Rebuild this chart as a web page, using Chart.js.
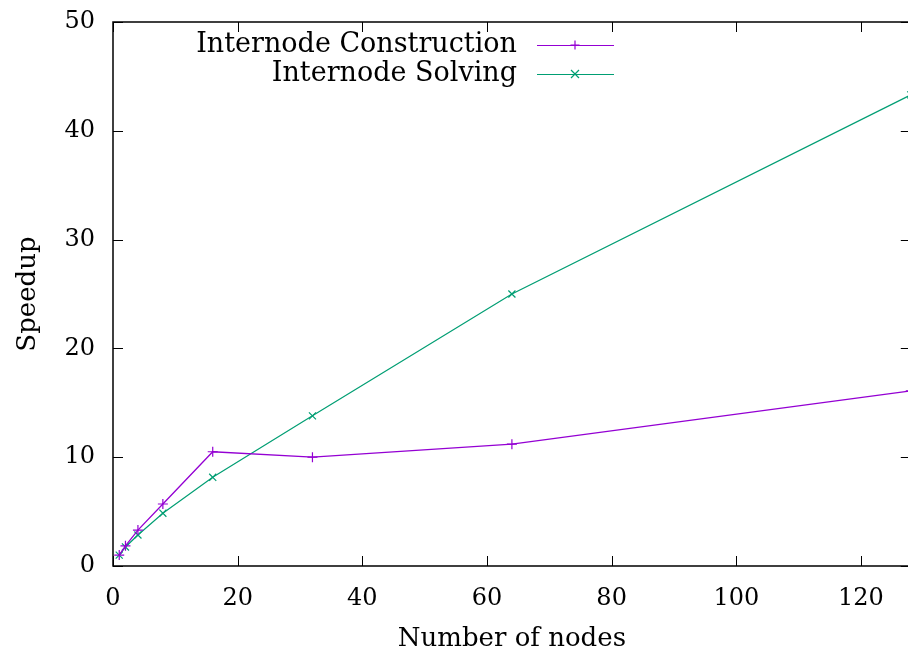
<!DOCTYPE html>
<html>
<head>
<meta charset="utf-8">
<script src="https://cdn.jsdelivr.net/npm/chart.js@4/dist/chart.umd.min.js"></script>
<style>
  html, body { margin: 0; padding: 0; background: #fff; overflow: hidden; }
  #wrap { width: 908px; height: 655px; overflow: hidden; }
</style>
</head>
<body>
<!-- the plot box runs a few pixels past the right edge, as in the gnuplot output -->
<div id="wrap"><canvas id="speedupChart" width="917" height="655"></canvas></div>
<script>
// node counts and measured speedups
var nodes = [1, 2, 4, 8, 16, 32, 64, 128];
var construction = [1, 1.85, 3.3, 5.7, 10.5, 10, 11.2, 16.1];
var solving = [1, 1.75, 2.85, 4.85, 8.15, 13.8, 25, 43.3];
var xTicks = [0, 20, 40, 60, 80, 100, 120];
var yTicks = [0, 10, 20, 30, 40, 50];
var seriesNames = ["Internode Construction", "Internode Solving"];

var FONT = "'DejaVu Serif', serif";

function toPoints(ys) {
	var pts = [];
	for (var i = 0; i < nodes.length; i++) {
		pts.push({ x: nodes[i], y: ys[i] });
	}
	return pts;
}

// drop the extra room chart.js keeps for overflowing tick labels
function noOverflow(scale) {
	scale.paddingTop = 0;
	scale.paddingBottom = 0;
	scale.paddingLeft = 0;
	scale.paddingRight = 0;
}

// gnuplot style frame, inward ticks on all sides, and the key in the top left
var gnuplotFrame = {
	id: 'gnuplotFrame',
	afterDraw: function (chart) {
		var ctx = chart.ctx;
		var a = chart.chartArea;
		var xs = chart.scales.x, ys = chart.scales.y;
		ctx.save();
		ctx.strokeStyle = '#000';
		ctx.lineWidth = 1.5;
		ctx.beginPath();
		ctx.moveTo(a.right, a.top);
		ctx.lineTo(a.left, a.top);
		ctx.lineTo(a.left, a.bottom);
		ctx.lineTo(a.right, a.bottom);
		ctx.stroke();

		ctx.lineWidth = 1;
		ctx.beginPath();
		xTicks.forEach(function (v) {
			var px = Math.round(xs.getPixelForValue(v)) + 0.5;
			ctx.moveTo(px, a.bottom); ctx.lineTo(px, a.bottom - 10);
			ctx.moveTo(px, a.top); ctx.lineTo(px, a.top + 10);
		});
		yTicks.forEach(function (v) {
			var py = Math.round(ys.getPixelForValue(v)) + 0.5;
			ctx.moveTo(a.left, py); ctx.lineTo(a.left + 10, py);
			ctx.moveTo(a.right, py); ctx.lineTo(a.right - 10, py);
		});
		ctx.stroke();

		// key
		ctx.font = '27px ' + FONT;
		ctx.textAlign = 'right';
		ctx.textBaseline = 'middle';
		var rows = [45, 74];
		chart.data.datasets.forEach(function (ds, i) {
			var y = rows[i];
			ctx.fillStyle = '#000';
			ctx.fillText(ds.label, 517, y);
			ctx.strokeStyle = ds.borderColor;
			ctx.lineWidth = 1.2;
			ctx.beginPath();
			ctx.moveTo(537, y + 0.5);
			ctx.lineTo(614, y + 0.5);
			ctx.stroke();
			ctx.beginPath();
			if (i === 0) {
				ctx.moveTo(575 - 4.5, y); ctx.lineTo(575 + 4.5, y);
				ctx.moveTo(575, y - 4.5); ctx.lineTo(575, y + 4.5);
			} else {
				ctx.moveTo(575 - 4, y - 4); ctx.lineTo(575 + 4, y + 4);
				ctx.moveTo(575 - 4, y + 4); ctx.lineTo(575 + 4, y - 4);
			}
			ctx.stroke();
		});
		ctx.restore();
	}
};

var ctx = document.getElementById("speedupChart");
var myChart = new Chart(ctx, {
	type: 'scatter',
	data: {
		datasets: [{
			label: seriesNames[0],
			data: toPoints(construction),
			showLine: true,
			borderColor: '#9400D3',
			backgroundColor: '#9400D3',
			borderWidth: 1.3,
			pointStyle: 'cross',
			pointRadius: 5,
			pointBorderWidth: 1.2,
			pointHoverRadius: 5
		}, {
			label: seriesNames[1],
			data: toPoints(solving),
			showLine: true,
			borderColor: '#009E73',
			backgroundColor: '#009E73',
			borderWidth: 1.2,
			pointStyle: 'crossRot',
			pointRadius: 5,
			pointBorderWidth: 1.2,
			pointHoverRadius: 5
		}]
	},
	options: {
		responsive: false,
		animation: false,
		clip: false,
		layout: { padding: { top: 22, right: 0, left: 0, bottom: 0 } },
		plugins: {
			legend: { display: false },
			tooltip: { enabled: false }
		},
		scales: {
			x: {
				type: 'linear',
				min: 0,
				max: 128,
				afterBuildTicks: function (scale) {
					scale.ticks = xTicks.map(function (v) { return { value: v }; });
				},
				afterFit: function (scale) { scale.height = 89; noOverflow(scale); },
				grid: { display: false },
				border: { display: false },
				ticks: {
					color: '#000',
					padding: 10,
					maxRotation: 0,
					font: { family: FONT, size: 24 }
				},
				title: {
					display: true,
					text: 'Number of nodes',
					color: '#000',
					padding: { top: 0, bottom: 0 },
					font: { family: FONT, size: 26 }
				}
			},
			y: {
				min: 0,
				max: 50,
				afterBuildTicks: function (scale) {
					scale.ticks = yTicks.map(function (v) { return { value: v }; });
				},
				afterFit: function (scale) { scale.width = 113; noOverflow(scale); },
				grid: { display: false },
				border: { display: false },
				ticks: {
					color: '#000',
					padding: 10,
					font: { family: FONT, size: 24 }
				},
				title: {
					display: true,
					text: 'Speedup',
					color: '#000',
					padding: { top: 13, bottom: 0 },
					font: { family: FONT, size: 26 }
				}
			}
		}
	},
	plugins: [gnuplotFrame]
});
</script>
</body>
</html>
